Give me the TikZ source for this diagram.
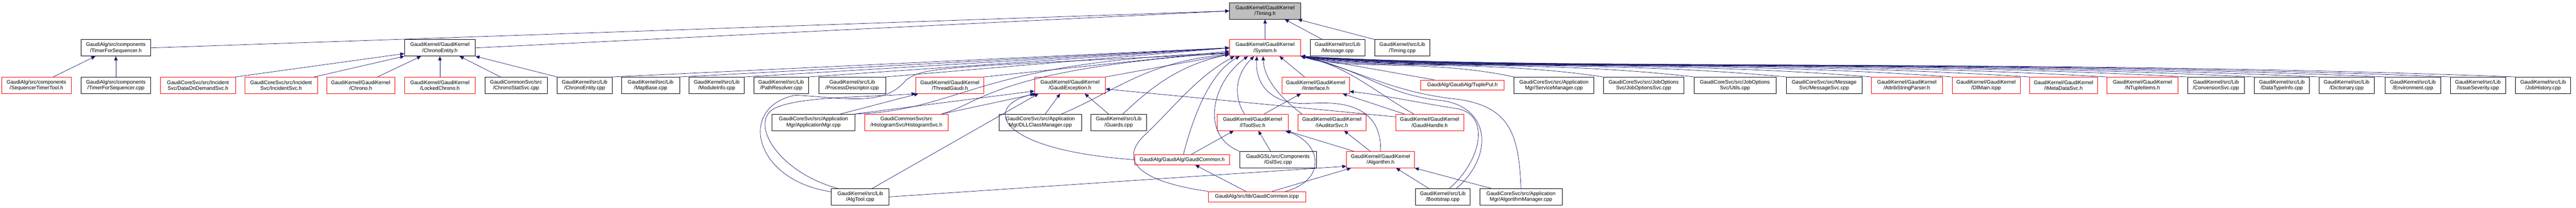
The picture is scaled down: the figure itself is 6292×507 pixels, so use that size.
\documentclass[tikz,border=0pt]{standalone}
\usepackage{fontspec}
\setmainfont{Liberation Sans}
\usetikzlibrary{arrows.meta}
\definecolor{edgecol}{RGB}{25,25,112}
\definecolor{redcol}{RGB}{255,0,0}
\definecolor{headfill}{RGB}{191,191,191}
\def \gfont {\fontsize{12.7}{14.6}\selectfont}

\begin{document}
\begin{tikzpicture}[x=1pt, y=-1pt,
    gbox/.style={draw=black, fill=white, rectangle, inner sep=0pt,
      minimum height=40pt, align=center, font=\gfont, line width=0.9pt},
    redbox/.style={gbox, draw=redcol},
    curbox/.style={gbox, fill=headfill},
    dep/.style={draw=edgecol, line width=0.9pt,
      -{Triangle[length=10pt,width=8.5pt]}}]
  \useasboundingbox (0,0) rectangle (6292,507);
  % top rows
  \node[curbox, minimum width=174pt] (timh) at (3090,26.7) {GaudiKernel/GaudiKernel\\/Timing.h};
  \node[gbox, minimum width=170pt] (tfsh) at (283,116.7) {GaudiAlg/src/components\\/TimerForSequencer.h};
  \node[gbox, minimum width=173pt] (ceh) at (1074.5,116.7) {GaudiKernel/GaudiKernel\\/ChronoEntity.h};
  \node[redbox, minimum width=174pt] (sysh) at (3090,116.7) {GaudiKernel/GaudiKernel\\/System.h};
  \node[gbox, minimum width=134pt] (msgcpp) at (3267,116.7) {GaudiKernel/src/Lib\\/Message.cpp};
  \node[gbox, minimum width=134pt] (timcpp) at (3425,116.7) {GaudiKernel/src/Lib\\/Timing.cpp};
  % row 2
  \node[redbox, minimum width=170pt] (sttool) at (89,208) {GaudiAlg/src/components\\/SequencerTimerTool.h};
  \node[gbox, minimum width=170pt] (tfscpp) at (283,208) {GaudiAlg/src/components\\/TimerForSequencer.cpp};
  \node[redbox, minimum width=183pt] (dods) at (483.5,208) {GaudiCoreSvc/src/Incident\\Svc/DataOnDemandSvc.h};
  \node[redbox, minimum width=177pt] (incsvc) at (686.5,208) {GaudiCoreSvc/src/Incident\\Svc/IncidentSvc.h};
  \node[redbox, minimum width=166pt] (chronoh) at (881,208) {GaudiKernel/GaudiKernel\\/Chrono.h};
  \node[redbox, minimum width=173pt] (lockch) at (1074.5,208) {GaudiKernel/GaudiKernel\\/LockedChrono.h};
  \node[gbox, minimum width=153pt] (cssvc) at (1260.5,208) {GaudiCommonSvc/src\\/ChronoStatSvc.cpp};
  \node[gbox, minimum width=134pt] (cecpp) at (1428,208) {GaudiKernel/src/Lib\\/ChronoEntity.cpp};
  \node[gbox, minimum width=142pt] (mapb) at (1589,208) {GaudiKernel/src/Lib\\/MapBase.cpp};
  \node[gbox, minimum width=135pt] (modinfo) at (1750.5,208) {GaudiKernel/src/Lib\\/ModuleInfo.cpp};
  \node[gbox, minimum width=134pt] (pathres) at (1908,208) {GaudiKernel/src/Lib\\/PathResolver.cpp};
  \node[gbox, minimum width=163pt] (procdesc) at (2081.5,208) {GaudiKernel/src/Lib\\/ProcessDescriptor.cpp};
  \node[redbox, minimum width=166pt] (thrg) at (2320,208) {GaudiKernel/GaudiKernel\\/ThreadGaudi.h};
  \node[redbox, minimum width=173pt] (gexc) at (2613.5,208) {GaudiKernel/GaudiKernel\\/GaudiException.h};
  \node[redbox, minimum width=165pt] (iintf) at (3213.5,208) {GaudiKernel/GaudiKernel\\/IInterface.h};
  \node[redbox, minimum width=204pt, minimum height=25pt] (tupput) at (3572,207.5) {GaudiAlg/GaudiAlg/TuplePut.h};
  \node[gbox, minimum width=195pt] (svcmgr) at (3795.5,208) {GaudiCoreSvc/src/Application\\Mgr/ServiceManager.cpp};
  \node[gbox, minimum width=197pt] (josvc) at (4014.5,208) {GaudiCoreSvc/src/JobOptions\\Svc/JobOptionsSvc.cpp};
  \node[gbox, minimum width=200pt] (utils) at (4237.5,208) {GaudiCoreSvc/src/JobOptions\\Svc/Utils.cpp};
  \node[gbox, minimum width=185pt] (msgsvc) at (4455.5,208) {GaudiCoreSvc/src/Message\\Svc/MessageSvc.cpp};
  \node[redbox, minimum width=173pt] (attrib) at (4657.5,208) {GaudiKernel/GaudiKernel\\/AttribStringParser.h};
  \node[redbox, minimum width=166pt] (dllmain) at (4851,208) {GaudiKernel/GaudiKernel\\/DllMain.icpp};
  \node[redbox, minimum width=166pt] (imeta) at (5040,208) {GaudiKernel/GaudiKernel\\/IMetaDataSvc.h};
  \node[redbox, minimum width=174pt] (ntitems) at (5233,208) {GaudiKernel/GaudiKernel\\/NTupleItems.h};
  \node[gbox, minimum width=139pt] (convsvc) at (5412.5,208) {GaudiKernel/src/Lib\\/ConversionSvc.cpp};
  \node[gbox, minimum width=135pt] (dtinfo) at (5573.5,208) {GaudiKernel/src/Lib\\/DataTypeInfo.cpp};
  \node[gbox, minimum width=135pt] (dict) at (5731.5,208) {GaudiKernel/src/Lib\\/Dictionary.cpp};
  \node[gbox, minimum width=135pt] (env) at (5893.5,208) {GaudiKernel/src/Lib\\/Environment.cpp};
  \node[gbox, minimum width=135pt] (issue) at (6052.5,208) {GaudiKernel/src/Lib\\/IssueSeverity.cpp};
  \node[gbox, minimum width=135pt] (jobhist) at (6211.5,208) {GaudiKernel/src/Lib\\/JobHistory.cpp};
  % row 3
  \node[gbox, minimum width=202pt] (appmgr) at (1987,298.3) {GaudiCoreSvc/src/Application\\Mgr/ApplicationMgr.cpp};
  \node[redbox, minimum width=204pt] (histsvc) at (2214,298.3) {GaudiCommonSvc/src\\/HistogramSvc/HistogramSvc.h};
  \node[gbox, minimum width=202pt] (dllcls) at (2541,298.3) {GaudiCoreSvc/src/Application\\Mgr/DLLClassManager.cpp};
  \node[gbox, minimum width=135pt] (guards) at (2732.5,298.3) {GaudiKernel/src/Lib\\/Guards.cpp};
  \node[redbox, minimum width=173pt] (itool) at (3059.5,298.3) {GaudiKernel/GaudiKernel\\/IToolSvc.h};
  \node[redbox, minimum width=166pt] (iaud) at (3253,298.3) {GaudiKernel/GaudiKernel\\/IAuditorSvc.h};
  \node[redbox, minimum width=166pt] (ghandle) at (3492,298.3) {GaudiKernel/GaudiKernel\\/GaudiHandle.h};
  % row 4
  \node[redbox, minimum width=231pt, minimum height=25pt] (gcommh) at (2887.5,389.5) {GaudiAlg/GaudiAlg/GaudiCommon.h};
  \node[gbox, minimum width=187pt] (gslsvc) at (3121.5,389.3) {GaudiGSL/src/Components\\/GslSvc.cpp};
  \node[redbox, minimum width=166pt] (algh) at (3372,389.3) {GaudiKernel/GaudiKernel\\/Algorithm.h};
  % row 5
  \node[gbox, minimum width=141pt] (algtool) at (2101,480) {GaudiKernel/src/Lib\\/AlgTool.cpp};
  \node[redbox, minimum width=238pt, minimum height=25pt] (gcommicpp) at (3070,479.5) {GaudiAlg/src/lib/GaudiCommon.icpp};
  \node[gbox, minimum width=134pt] (boot) at (3524,480) {GaudiKernel/src/Lib\\/Bootstrap.cpp};
  \node[gbox, minimum width=202pt] (algmgr) at (3715,480) {GaudiCoreSvc/src/Application\\Mgr/AlgorithmManager.cpp};

  % into Timing.h
  \draw[dep] (tfsh.east) -- (timh.west);
  \draw[dep] (ceh.east) -- (timh.west);
  \draw[dep] (sysh.north) -- (timh.south);
  \draw[dep] ([xshift=-37pt]msgcpp.north) -- ([xshift=48pt]timh.south);
  \draw[dep] (timcpp.north west) -- ([xshift=80pt]timh.south);
  % into TimerForSequencer.h and ChronoEntity.h
  \draw[dep] ([xshift=41pt]sttool.north) -- ([xshift=-50pt]tfsh.south);
  \draw[dep] (tfscpp.north) -- (tfsh.south);
  \draw[dep] (dods.north east) -- ([yshift=-14pt]ceh.west);
  \draw[dep] ([xshift=81pt]incsvc.north) -- (ceh.south west);
  \draw[dep] ([xshift=41pt]chronoh.north) -- ([xshift=-46pt]ceh.south);
  \draw[dep] (lockch.north) -- (ceh.south);
  \draw[dep] ([xshift=-38pt]cssvc.north) -- ([xshift=48pt]ceh.south);
  \draw[dep] (cecpp.north west) -- (ceh.south east);
  % into System.h from the left
  \draw[dep] (cecpp.north east) -- (sysh.west);
  \draw[dep] (mapb.north east) -- (sysh.west);
  \draw[dep] (modinfo.north east) -- (sysh.west);
  \draw[dep] (pathres.north east) -- (sysh.west);
  \draw[dep] (procdesc.north east) -- (sysh.west);
  \draw[dep] (thrg.north east) -- ([yshift=-8pt]sysh.west);
  \draw[dep] (gexc.north east) -- ([yshift=-16pt]sysh.west);
  \draw[dep] (appmgr.north east) .. controls (2350,270) and (2380,150) .. ([yshift=-12pt]sysh.west);
  \draw[dep] ([xshift=86pt]histsvc.north) .. controls (2400,250) and (2430,170) .. ([yshift=-12pt]sysh.west);
  \draw[dep] ([xshift=52pt]dllcls.north) .. controls (2720,225) and (2800,150) .. ([yshift=-16pt]sysh.west);
  \draw[dep] ([xshift=10pt]guards.north) .. controls (2800,225) and (2870,160) .. ([yshift=-16pt]sysh.west);
  \draw[dep] (algtool.170) .. controls (1840,440) and (1800,260) .. (1943,232)
    .. controls (2060,238) and (2160,262) .. (2213,195) .. controls (2260,165) .. ([yshift=-14pt]sysh.west);
  % into System.h from below
  \draw[dep] (gcommicpp.north west) .. controls (2800,445) and (2730,400) .. (2790,335)
    .. controls (2870,260) and (2920,190) .. ([xshift=-75pt]sysh.south);
  \draw[dep] ([xshift=3pt]gcommh.north) .. controls (2910,300) and (2950,180) .. ([xshift=-62pt]sysh.south);
  \draw[dep] (gslsvc.north west) .. controls (2930,330) and (2960,200) .. ([xshift=-42pt]sysh.south);
  \draw[dep] ([xshift=-20pt]itool.north) .. controls (3010,230) and (3020,180) .. ([xshift=-27pt]sysh.south);
  \draw[dep] (algh.north) .. controls (3375,270) and (3300,245) .. (3200,252)
    .. controls (3110,258) and (3065,210) .. ([xshift=-20pt]sysh.south);
  \draw[dep] ([xshift=-73pt]iaud.north) .. controls (3130,240) and (3088,195) .. ([xshift=-5pt]sysh.south);
  \draw[dep] ([xshift=-27pt]iintf.north) -- ([xshift=35pt]sysh.south);
  \draw[dep] ([xshift=-39pt]ghandle.north) .. controls (3360,225) and (3290,160) .. (sysh.south east);
  \draw[dep] ([xshift=-69pt]tupput.north) -- (sysh.south east);
  \draw[dep] ([xshift=33pt]boot.north) .. controls (3650,380) and (3640,260) .. (3520,245)
    .. controls (3380,230) and (3330,170) .. (sysh.south east);
  \draw[dep] (algmgr.north) .. controls (3710,330) and (3690,260) .. (3560,242)
    .. controls (3400,225) and (3330,175) .. (sysh.south east);
  % into System.h from the right
  \draw[dep] (svcmgr.north west) .. controls +(-208,-45) and +(104,35) .. (sysh.south east);
  \draw[dep] (josvc.north west) .. controls +(-296,-45) and +(148,35) .. (sysh.south east);
  \draw[dep] (utils.north west) .. controls +(-384,-45) and +(192,35) .. (sysh.south east);
  \draw[dep] (msgsvc.north west) .. controls +(-474,-45) and +(237,35) .. (sysh.south east);
  \draw[dep] (attrib.north west) .. controls +(-558,-45) and +(279,35) .. (sysh.south east);
  \draw[dep] (dllmain.north west) .. controls +(-636,-45) and +(318,35) .. (sysh.south east);
  \draw[dep] (imeta.north west) .. controls +(-712,-45) and +(356,35) .. (sysh.south east);
  \draw[dep] (ntitems.north west) .. controls +(-788,-45) and +(394,35) .. (sysh.south east);
  \draw[dep] (convsvc.north west) .. controls +(-866,-45) and +(433,35) .. (sysh.south east);
  \draw[dep] (dtinfo.north west) .. controls +(-932,-45) and +(466,35) .. (sysh.south east);
  \draw[dep] (dict.north west) .. controls +(-995,-45) and +(497,35) .. (sysh.south east);
  \draw[dep] (env.north west) .. controls +(-1060,-45) and +(530,35) .. (sysh.south east);
  \draw[dep] (issue.north west) .. controls +(-1123,-45) and +(562,35) .. (sysh.south east);
  \draw[dep] (jobhist.north west) .. controls +(-1187,-45) and +(593,35) .. (sysh.south east);
  % into ThreadGaudi.h
  \draw[dep] ([xshift=66pt]appmgr.north) -- ([xshift=-77pt]thrg.south);
  \draw[dep] ([xshift=-54pt]algtool.north) .. controls (1900,420) and (1830,300) .. (1890,265)
    .. controls (1950,235) and (2100,238) .. (thrg.south west);
  % into GaudiException.h
  \draw[dep] (appmgr.north east) -- ([yshift=-14pt]gexc.west);
  \draw[dep] ([xshift=86pt]histsvc.north) -- ([xshift=5pt]gexc.south west);
  \draw[dep] ([xshift=12pt]dllcls.north) -- ([xshift=-24pt]gexc.south);
  \draw[dep] ([xshift=-25pt]guards.north) -- ([xshift=36pt]gexc.south);
  \draw[dep] (gcommh.west) .. controls (2430,365) and (2400,260) .. (gexc.south west);
  \draw[dep] ([xshift=29pt]algtool.north) -- ([xshift=10pt]gexc.south west);
  \draw[dep] ([yshift=-7pt]ghandle.north west) -- ([yshift=-9pt]gexc.east);
  % into IToolSvc.h, IInterface.h, IAuditorSvc.h
  \draw[dep] ([xshift=22pt]gcommh.north) -- ([xshift=-46pt]itool.south);
  \draw[dep] ([xshift=-18pt]gslsvc.north) -- ([xshift=14pt]itool.south);
  \draw[dep] ([xshift=-65pt]algh.north) -- ([xshift=83pt]itool.south);
  \draw[dep] ([xshift=70pt]gcommicpp.north) .. controls (3240,440) and (3230,350) .. ([xshift=80pt]itool.south);
  \draw[dep] ([xshift=28pt]itool.north) -- ([xshift=-36pt]iintf.south);
  \draw[dep] ([xshift=-62pt]ghandle.north) -- ([xshift=66pt]iintf.south);
  \draw[dep] ([xshift=16pt]boot.north) .. controls (3620,390) and (3640,280) .. (3560,265)
    .. controls (3450,248) and (3380,232) .. ([yshift=-15pt]iintf.east);
  \draw[dep] ([xshift=-25pt]algh.north) -- ([xshift=30pt]iaud.south);
  % into GaudiCommon.h and Algorithm.h
  \draw[dep] ([xshift=-27pt]gcommicpp.north) -- ([xshift=32pt]gcommh.south);
  \draw[dep] ([xshift=37pt]gcommicpp.north) -- ([xshift=-72pt]algh.south);
  \draw[dep] (algtool.east) -- ([yshift=-16pt]algh.west);
  \draw[dep] ([xshift=-34pt]boot.north) -- ([xshift=38pt]algh.south);
  \draw[dep] ([xshift=-72pt]algmgr.north) -- (algh.south east);
\end{tikzpicture}
\end{document}
